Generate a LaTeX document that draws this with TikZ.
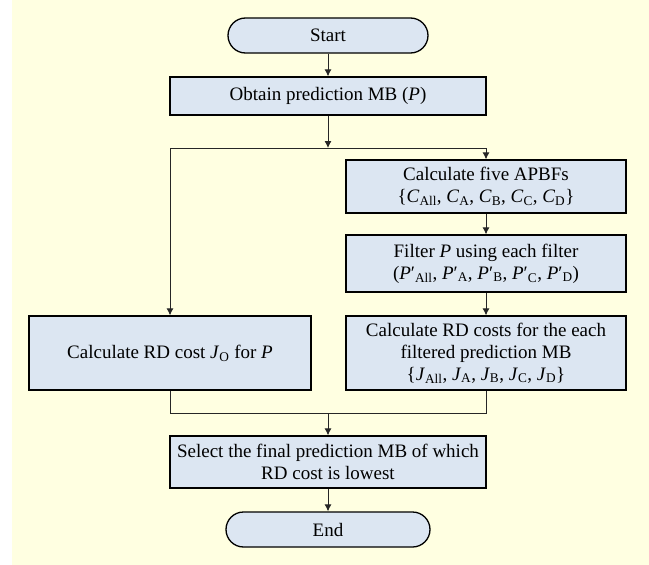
\documentclass[tikz,border=0pt]{standalone}
\usepackage{fontspec}
\setmainfont{Liberation Serif}
\usetikzlibrary{arrows.meta}
\definecolor{bgyellow}{HTML}{FFFFE1}
\definecolor{boxfill}{HTML}{DCE6F2}
\newcommand{\vi}[1]{\textit{#1}}
\newcommand{\sbs}[1]{\textsubscript{#1}}
\newcommand{\pp}[1]{\textit{P}′\textsubscript{#1}}
\tikzset{
  every node/.style={font=\fontsize{19}{22}\selectfont, align=center, inner sep=0pt},
  procbox/.style={draw=black, line width=1.3pt, fill=boxfill, rectangle},
  termbox/.style={draw=black, line width=1.3pt, fill=boxfill, rectangle, rounded corners=17.5pt},
  conn/.style={draw=black!85, line width=0.9pt},
  arr/.style={conn, -{Latex[length=7pt,width=7pt]}}
}
\begin{document}
\begin{tikzpicture}[x=1pt,y=-1pt]
  \fill[bgyellow] (12,0) rectangle (649,565);
  \useasboundingbox (0,0) rectangle (649,565);

  \node[termbox, minimum width=200pt, minimum height=35pt] (start) at (328,35.5) {Start};
  \node[procbox, minimum width=316pt, minimum height=38pt] (obtain) at (328,96) {Obtain prediction MB (\vi{P})};
  \node[procbox, minimum width=280pt, minimum height=53pt] (apbf) at (486,186.5)
    {Calculate five APBFs\\\{\vi{C}\sbs{All}, \vi{C}\sbs{A}, \vi{C}\sbs{B}, \vi{C}\sbs{C}, \vi{C}\sbs{D}\}};
  \node[procbox, minimum width=280pt, minimum height=57pt] (filter) at (486,263.5)
    {Filter \vi{P} using each filter\\(\pp{All}, \pp{A}, \pp{B}, \pp{C}, \pp{D})};
  \node[procbox, minimum width=280pt, minimum height=74pt] (rdr) at (486,353)
    {Calculate RD costs for the each\\filtered prediction MB\\\{\vi{J}\sbs{All}, \vi{J}\sbs{A}, \vi{J}\sbs{B}, \vi{J}\sbs{C}, \vi{J}\sbs{D}\}};
  \node[procbox, minimum width=282pt, minimum height=74pt] (rdl) at (170,353)
    {Calculate RD cost \vi{J}\sbs{O} for \vi{P}};
  \node[procbox, minimum width=316pt, minimum height=52pt] (select) at (328,462)
    {Select the final prediction MB of which\\RD cost is lowest};
  \node[termbox, minimum width=204pt, minimum height=35pt] (end) at (328,529.5) {End};

  \coordinate (split) at (328,148);
  \coordinate (sl) at (170,148);
  \coordinate (sr) at (486,148);
  \coordinate (jl) at (170,413);
  \coordinate (jr) at (486,413);
  \coordinate (jm) at (328,413);

  \draw[arr] (start) -- (obtain);
  \draw[arr] (obtain) -- (split);
  \draw[conn] (sl) -- (sr);
  \draw[arr] (sl) -- (rdl.north);
  \draw[arr] (sr) -- (apbf.north);
  \draw[arr] (apbf) -- (filter);
  \draw[arr] (filter) -- (rdr);
  \draw[conn] (rdl.south) -- (jl) -- (jr) -- (rdr.south);
  \draw[arr] (jm) -- (select.north);
  \draw[arr] (select) -- (end);
\end{tikzpicture}
\end{document}
